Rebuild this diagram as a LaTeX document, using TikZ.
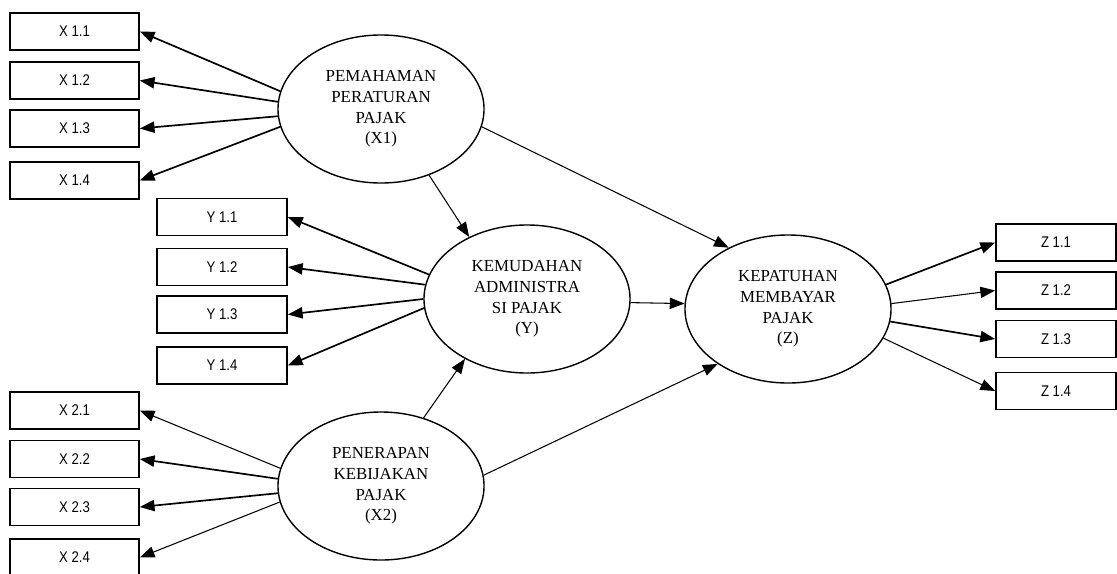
\documentclass[tikz,border=0pt]{standalone}
\usepackage{fontspec}
\setmainfont{Liberation Serif}
\newfontfamily\kotakfont[FakeStretch=0.85]{Liberation Sans}
\usetikzlibrary{arrows.meta,shapes.geometric}

\begin{document}
\begin{tikzpicture}[x=0.025cm,y=-0.025cm,>={Triangle[length=10.5pt,width=8pt]},
  kotak/.style={draw,line width=1.2pt,minimum width=3.22cm,minimum height=0.92cm,inner sep=0pt,font=\kotakfont\fontsize{11}{13}\selectfont},
  laten/.style={draw,ellipse,line width=1pt,minimum width=5.15cm,minimum height=3.7cm,inner sep=0pt,align=center,font=\fontsize{12}{14.6}\selectfont},
  tebal/.style={draw,line width=1.2pt,->},
  tipis/.style={draw,line width=0.75pt,->}]
\useasboundingbox (0,0) rectangle (1117,573);
\node[laten] (x1) at (381,109) {PEMAHAMAN\\PERATURAN\\PAJAK\\(X1)};
\node[laten] (y) at (527,299) {KEMUDAHAN\\ADMINISTRA\\SI PAJAK\\(Y)};
\node[laten] (z) at (788,309) {KEPATUHAN\\MEMBAYAR\\PAJAK\\(Z)};
\node[laten] (x2) at (381,486) {PENERAPAN\\KEBIJAKAN\\PAJAK\\(X2)};
\node[kotak] (x11) at (74.5,31.5) {X 1.1};
\node[kotak] (x12) at (74.5,80.5) {X 1.2};
\node[kotak] (x13) at (74.5,128.5) {X 1.3};
\node[kotak] (x14) at (74.5,180.5) {X 1.4};
\node[kotak,minimum width=3.25cm] (y11) at (222,217) {Y 1.1};
\node[kotak,minimum width=3.25cm] (y12) at (222,267) {Y 1.2};
\node[kotak,minimum width=3.25cm] (y13) at (222,314.5) {Y 1.3};
\node[kotak,minimum width=3.25cm] (y14) at (222,365.5) {Y 1.4};
\node[kotak] (x21) at (74.5,410.5) {X 2.1};
\node[kotak] (x22) at (74.5,459) {X 2.2};
\node[kotak] (x23) at (74.5,507) {X 2.3};
\node[kotak] (x24) at (74.5,557.5) {X 2.4};
\node[kotak,minimum width=3cm] (z11) at (1056,242.5) {Z 1.1};
\node[kotak,minimum width=3cm] (z12) at (1056,290.5) {Z 1.2};
\node[kotak,minimum width=3cm] (z13) at (1056,339) {Z 1.3};
\node[kotak,minimum width=3cm] (z14) at (1056,391) {Z 1.4};
\path[tebal] (x1.170) -- (x11.east);
\path[tebal] (x1.176) -- (x12.east);
\path[tebal] (x1.184) -- (x13.east);
\path[tebal] (x1.190) -- (x14.east);
\path[tebal] (y.166) -- (y11.east);
\path[tebal] (y.172) -- (y12.east);
\path[tebal] (y.180) -- (y13.east);
\path[tebal] (y.185) -- (y14.east);
\path[tipis] (x2.170) -- (x21.east);
\path[tebal] (x2.176) -- (x22.east);
\path[tebal] (x2.184) -- (x23.east);
\path[tipis] (x2.189) -- (x24.east);
\path[tebal] (z.14) -- (z11.west);
\path[tipis] (z.3) -- (z12.west);
\path[tebal] (z.-7) -- (z13.west);
\path[tipis] (z.-17) -- (z14.west);
\path[tipis] (x1.-54) -- (y.133);
\path[tipis] (x1.-10) -- (z.134);
\path[tipis] (y.-2) -- (z.177);
\path[tipis] (x2.58) -- (y.224);
\path[tipis] (x2.6) -- (z.218);
\end{tikzpicture}
\end{document}
